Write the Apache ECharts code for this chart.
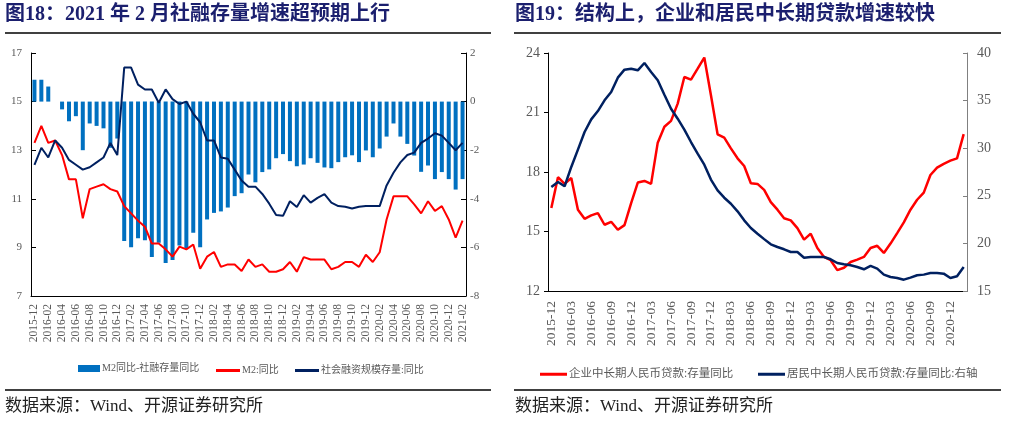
<!DOCTYPE html>
<html><head><meta charset="utf-8">
<script src="https://cdn.jsdelivr.net/npm/echarts@6/dist/echarts.min.js"></script>
<style>html,body{margin:0;padding:0;background:#fff}#c{width:1026px;height:425px}</style>
</head><body><div id="c"></div>
<script>
const months = ['2015-12','2016-01','2016-02','2016-03','2016-04','2016-05','2016-06','2016-07','2016-08','2016-09','2016-10','2016-11','2016-12',
'2017-01','2017-02','2017-03','2017-04','2017-05','2017-06','2017-07','2017-08','2017-09','2017-10','2017-11','2017-12',
'2018-01','2018-02','2018-03','2018-04','2018-05','2018-06','2018-07','2018-08','2018-09','2018-10','2018-11','2018-12',
'2019-01','2019-02','2019-03','2019-04','2019-05','2019-06','2019-07','2019-08','2019-09','2019-10','2019-11','2019-12',
'2020-01','2020-02','2020-03','2020-04','2020-05','2020-06','2020-07','2020-08','2020-09','2020-10','2020-11','2020-12',
'2021-01','2021-02'];

// Chart 18
const m2MinusTsf = [0.9,0.9,0.62,0,-0.32,-0.81,-0.6,-2.0,-0.9,-1.0,-1.1,-1.9,-1.52,
-5.74,-5.99,-5.62,-5.71,-6.4,-5.81,-6.64,-6.52,-5.92,-6.03,-5.4,-5.99,
-4.85,-4.58,-4.52,-4.36,-3.89,-3.77,-3.0,-3.32,
-2.9,-2.79,-2.33,-2.16,-2.45,-2.66,-2.59,-2.33,-2.52,-2.71,-2.74,-2.49,-2.29,-2.21,-2.49,-2.01,-2.29,-1.93,
-1.44,-0.9,-1.44,-1.74,-2.22,-2.89,-2.63,-3.19,-2.9,-3.19,-3.62,-3.19];
const m2Yoy = [13.3,14.0,13.3,13.4,12.8,11.8,11.8,10.2,11.4,11.5,11.6,11.4,11.3,
10.7,10.4,10.1,9.85,9.16,9.16,8.92,8.62,9.03,8.92,9.12,8.12,
8.62,8.81,8.2,8.3,8.3,8.03,8.5,8.2,
8.3,8.0,8.0,8.1,8.4,8.0,8.6,8.5,8.5,8.5,8.1,8.2,8.4,8.4,8.2,8.7,8.4,8.8,
10.15,11.1,11.1,11.1,10.77,10.4,10.9,10.5,10.7,10.15,9.4,10.1];
const tsfYoy = [12.4,13.1,12.7,13.4,13.1,12.6,12.4,12.2,12.3,12.5,12.7,13.3,12.8,
16.4,16.4,15.7,15.5,15.5,14.95,15.5,15.1,14.9,15.0,14.5,14.15,
13.4,13.4,12.7,12.65,12.2,11.75,11.5,11.5,
11.2,10.8,10.33,10.3,10.9,10.66,11.15,10.84,11.04,11.19,10.84,10.7,10.67,10.6,10.67,10.7,10.7,10.7,
11.55,12.07,12.5,12.8,12.9,13.3,13.48,13.7,13.6,13.3,13.0,13.3];

// Chart 19
const corpLoan = [16.18,17.74,17.4,17.7,16.1,15.64,15.81,15.93,15.34,15.49,15.09,15.32,16.43,
17.47,17.55,17.4,19.48,20.28,20.58,21.45,22.79,22.66,23.21,23.77,
21.87,19.9,19.73,19.19,18.69,18.3,17.43,17.4,17.1,
16.48,16.1,15.67,15.56,15.17,14.59,14.89,14.17,13.72,13.55,13.05,13.17,13.46,13.58,13.72,14.17,14.28,13.92,
14.39,14.92,15.46,16.1,16.6,16.96,17.85,18.22,18.41,18.57,18.69,19.91];
const houseLoan = [25.92,26.45,26.0,28.03,29.85,31.7,33.03,33.9,35.03,35.9,37.41,38.25,38.35,
38.18,38.95,38.0,37.13,35.62,34.15,33.1,31.95,30.65,29.43,28.27,
26.7,25.57,24.8,24.17,23.37,22.42,21.62,21.02,20.45,
19.9,19.62,19.38,19.1,19.1,18.5,18.57,18.57,18.57,18.33,17.94,17.8,17.7,17.52,17.28,17.63,17.35,16.72,
16.47,16.37,16.19,16.4,16.65,16.72,16.89,16.89,16.82,16.37,16.54,17.52];

const serif = "'Liberation Serif','Noto Sans CJK SC',serif";
const titleColor = '#1B1F6E';
const lblColor = '#595959';

const chart = echarts.init(document.getElementById('c'), null, {renderer:'canvas'});
chart.setOption({
  backgroundColor:'#fff',
  animation:false,
  title:[
    {text:'图18：2021 年 2 月社融存量增速超预期上行', left:5, top:5, padding:0,
     textStyle:{fontSize:20, fontWeight:'bold', color:titleColor, fontFamily:serif}},
    {text:'图19：结构上，企业和居民中长期贷款增速较快', left:515, top:5, padding:0,
     textStyle:{fontSize:20, fontWeight:'bold', color:titleColor, fontFamily:serif}},
    {text:'数据来源：Wind、开源证券研究所', left:5, top:398, padding:0,
     textStyle:{fontSize:17, fontWeight:'normal', color:'#222', fontFamily:serif}},
    {text:'数据来源：Wind、开源证券研究所', left:515, top:398, padding:0,
     textStyle:{fontSize:17, fontWeight:'normal', color:'#222', fontFamily:serif}}
  ],
  graphic:[
    {type:'line', shape:{x1:5,y1:33,x2:491,y2:33}, style:{stroke:'#000', lineWidth:1.5}},
    {type:'line', shape:{x1:5,y1:390,x2:491,y2:390}, style:{stroke:'#000', lineWidth:1.5}},
    {type:'line', shape:{x1:514,y1:33,x2:1001,y2:33}, style:{stroke:'#000', lineWidth:1.5}},
    {type:'line', shape:{x1:514,y1:390,x2:1001,y2:390}, style:{stroke:'#000', lineWidth:1.5}}
  ],
  legend:[
    {data:['M2同比-社融存量同比'], left:78, top:363.5, padding:0, itemWidth:22, itemHeight:7, itemGap:0, icon:'rect', selectedMode:false,
     textStyle:{fontSize:10, color:lblColor, fontFamily:serif, padding:[0,0,0,-3]}},
    {data:['M2:同比'], left:216, top:365.5, padding:0, itemWidth:24, itemHeight:3, icon:'rect', selectedMode:false,
     textStyle:{fontSize:10, color:lblColor, fontFamily:serif, padding:[0,0,0,-3]}},
    {data:['社会融资规模存量:同比'], left:295, top:365.5, padding:0, itemWidth:24, itemHeight:3, icon:'rect', selectedMode:false,
     textStyle:{fontSize:10, color:lblColor, fontFamily:serif, padding:[0,0,0,-3]}},
    {data:['企业中长期人民币贷款:存量同比'], left:540, top:368.5, padding:0, itemWidth:27, itemHeight:3, icon:'rect', selectedMode:false,
     textStyle:{fontSize:11.5, color:lblColor, fontFamily:serif, padding:[0,0,0,-3]}},
    {data:['居民中长期人民币贷款:存量同比:右轴'], left:758, top:368.5, padding:0, itemWidth:27, itemHeight:3, icon:'rect', selectedMode:false,
     textStyle:{fontSize:11.5, color:lblColor, fontFamily:serif, padding:[0,0,0,-3]}}
  ],
  grid:[
    {left:31, top:53, width:435, height:243},
    {left:548, top:53, width:419, height:238}
  ],
  xAxis:[
    {type:'category', gridIndex:0, data:months, boundaryGap:true,
     axisLine:{onZero:false, lineStyle:{color:'#000', width:1}},
     axisTick:{inside:true, length:4, interval:1, lineStyle:{color:'#000'}},
     axisLabel:{interval:1, rotate:90, margin:8, fontSize:11.5, color:lblColor, fontFamily:serif}},
    {type:'category', gridIndex:1, data:months, boundaryGap:true,
     axisLine:{onZero:false, lineStyle:{color:'#000', width:1}},
     axisTick:{inside:false, length:4, interval:2, lineStyle:{color:'#000'}},
     axisLabel:{interval:2, rotate:90, margin:10, fontSize:13.5, color:lblColor, fontFamily:serif}}
  ],
  yAxis:[
    {type:'value', gridIndex:0, min:7, max:17, interval:2, position:'left',
     axisLine:{show:true, lineStyle:{color:'#000'}}, axisTick:{show:true, inside:true, length:5, lineStyle:{color:'#000'}},
     splitLine:{show:false}, axisLabel:{margin:9, fontSize:11, color:lblColor, fontFamily:serif}},
    {type:'value', gridIndex:0, min:-8, max:2, interval:2, position:'right',
     axisLine:{show:true, lineStyle:{color:'#000'}}, axisTick:{show:true, inside:true, length:5, lineStyle:{color:'#000'}},
     splitLine:{show:false}, axisLabel:{margin:4, fontSize:11, color:lblColor, fontFamily:serif}},
    {type:'value', gridIndex:1, min:12, max:24, interval:3, position:'left',
     axisLine:{show:true, lineStyle:{color:'#000'}}, axisTick:{show:true, inside:false, length:4, lineStyle:{color:'#000'}},
     splitLine:{show:false}, axisLabel:{margin:8, fontSize:14, color:lblColor, fontFamily:serif}},
    {type:'value', gridIndex:1, min:15, max:40, interval:5, position:'right',
     axisLine:{show:true, lineStyle:{color:'#808080'}}, axisTick:{show:true, inside:true, length:4, lineStyle:{color:'#808080'}},
     splitLine:{show:false}, axisLabel:{margin:10, fontSize:14, color:lblColor, fontFamily:serif}}
  ],
  series:[
    {name:'M2同比-社融存量同比', type:'bar', xAxisIndex:0, yAxisIndex:1, data:m2MinusTsf, barWidth:4,
     color:'#0070C0', itemStyle:{color:'#0070C0'}},
    {name:'M2:同比', type:'line', xAxisIndex:0, yAxisIndex:0, data:m2Yoy, showSymbol:false, symbol:'none',
     color:'#FF0000', lineStyle:{color:'#FF0000', width:2}, itemStyle:{color:'#FF0000'}},
    {name:'社会融资规模存量:同比', type:'line', xAxisIndex:0, yAxisIndex:0, data:tsfYoy, showSymbol:false, symbol:'none',
     color:'#002060', lineStyle:{color:'#002060', width:2}, itemStyle:{color:'#002060'}},
    {name:'企业中长期人民币贷款:存量同比', type:'line', xAxisIndex:1, yAxisIndex:2, data:corpLoan, showSymbol:false, symbol:'none',
     color:'#FF0000', lineStyle:{color:'#FF0000', width:2.5}, itemStyle:{color:'#FF0000'}},
    {name:'居民中长期人民币贷款:存量同比:右轴', type:'line', xAxisIndex:1, yAxisIndex:3, data:houseLoan, showSymbol:false, symbol:'none',
     color:'#002060', lineStyle:{color:'#002060', width:2.5}, itemStyle:{color:'#002060'}}
  ]
});
</script>
</body></html>
